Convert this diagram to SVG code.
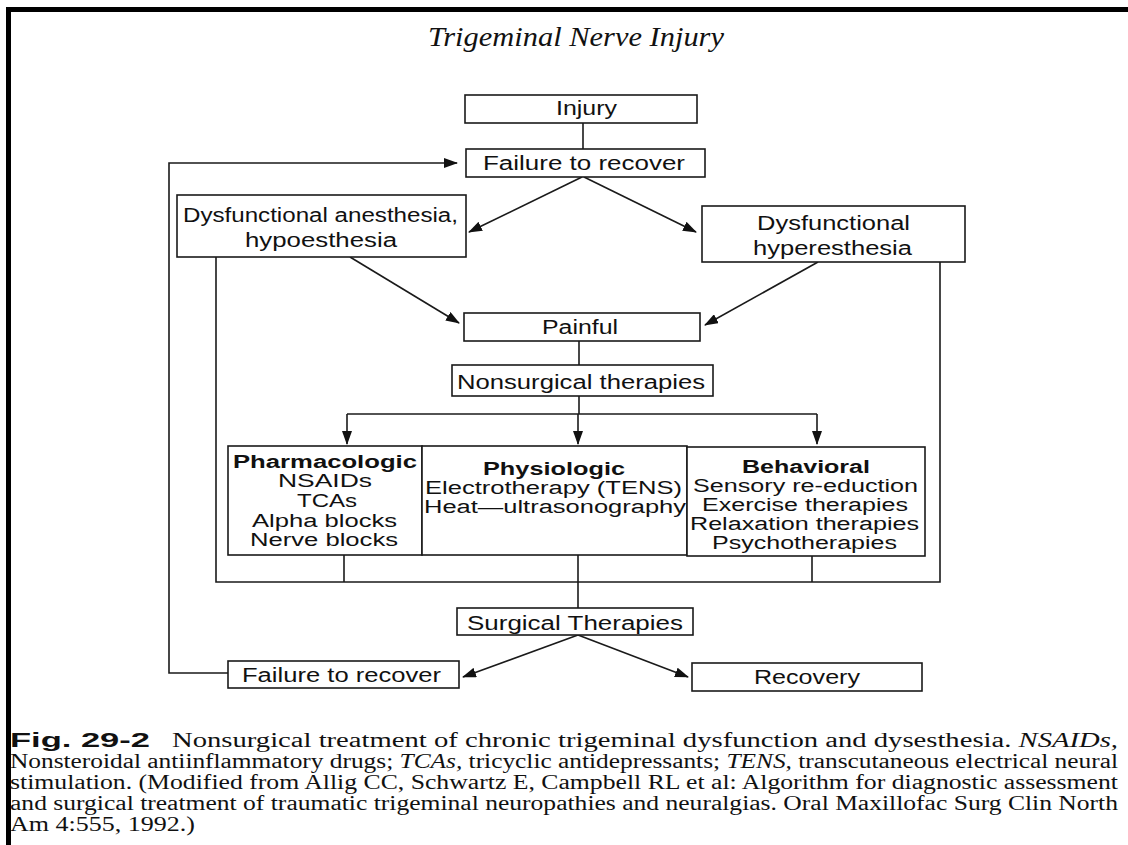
<svg xmlns="http://www.w3.org/2000/svg" width="1128" height="845" viewBox="0 0 1128 845">
<style>
.bx{fill:#fff;stroke:#1a1a1a;stroke-width:1.6}
.t{font-family:"Liberation Sans",Arial,sans-serif;font-size:20px;fill:#111;text-anchor:start}
.s{font-size:18px}
.b{font-weight:bold}
.ln{fill:none;stroke:#1a1a1a;stroke-width:1.6}
.cap{font-family:"Liberation Serif","Times New Roman",serif;font-size:20px;fill:#111}
</style>
<defs>
<marker id="ah" markerUnits="userSpaceOnUse" markerWidth="14" markerHeight="10" refX="13" refY="5" orient="auto">
<path d="M0,0 L14,5 L0,10 z" fill="#111"/>
</marker>
</defs>
<rect x="0" y="0" width="1128" height="845" fill="#fff"/>
<rect x="6" y="7" width="1122" height="5" fill="#000"/>
<rect x="6" y="7" width="5" height="838" fill="#000"/>
<text x="428" y="46" font-family="'Liberation Serif','Times New Roman',serif" font-style="italic" font-size="27" fill="#111" textLength="296" lengthAdjust="spacingAndGlyphs">Trigeminal Nerve Injury</text>

<g id="connectors">
<line class="ln" x1="583" y1="123" x2="583" y2="149"/>
<line class="ln" x1="582" y1="177" x2="469" y2="232" marker-end="url(#ah)"/>
<line class="ln" x1="584" y1="177" x2="696" y2="232" marker-end="url(#ah)"/>
<line class="ln" x1="350" y1="257" x2="459" y2="323" marker-end="url(#ah)"/>
<line class="ln" x1="818" y1="262" x2="705" y2="325" marker-end="url(#ah)"/>
<line class="ln" x1="579" y1="341" x2="579" y2="365"/>
<line class="ln" x1="579" y1="396" x2="579" y2="414"/>
<line class="ln" x1="347" y1="414" x2="817" y2="414"/>
<line class="ln" x1="347" y1="414" x2="347" y2="444" marker-end="url(#ah)"/>
<line class="ln" x1="578" y1="414" x2="578" y2="444" marker-end="url(#ah)"/>
<line class="ln" x1="817" y1="414" x2="817" y2="444" marker-end="url(#ah)"/>
<line class="ln" x1="344" y1="555" x2="344" y2="582"/>
<line class="ln" x1="812" y1="555" x2="812" y2="582"/>
<line class="ln" x1="578" y1="555" x2="578" y2="608"/>
<polyline class="ln" points="216,257 216,582 940,582 940,262"/>
<line class="ln" x1="578" y1="635" x2="463" y2="677" marker-end="url(#ah)"/>
<line class="ln" x1="578" y1="635" x2="688" y2="677" marker-end="url(#ah)"/>
<polyline class="ln" points="228,673 169,673 169,163 457,163" marker-end="url(#ah)"/>
</g>

<g id="injury">
<rect class="bx" x="465" y="95" width="232" height="28"/>
<text class="t" x="556" y="115" textLength="61" lengthAdjust="spacingAndGlyphs">Injury</text>
</g>
<g id="failure-top">
<rect class="bx" x="466" y="149" width="239" height="28"/>
<text class="t" x="483" y="170" textLength="202" lengthAdjust="spacingAndGlyphs">Failure to recover</text>
</g>
<g id="anesthesia">
<rect class="bx" x="177" y="195" width="289" height="62"/>
<text class="t" x="183" y="222" textLength="275" lengthAdjust="spacingAndGlyphs">Dysfunctional anesthesia,</text>
<text class="t" x="245" y="247" textLength="152" lengthAdjust="spacingAndGlyphs">hypoesthesia</text>
</g>
<g id="hyperesthesia">
<rect class="bx" x="702" y="206" width="263" height="56"/>
<text class="t" x="757" y="230" textLength="153" lengthAdjust="spacingAndGlyphs">Dysfunctional</text>
<text class="t" x="753" y="255" textLength="159" lengthAdjust="spacingAndGlyphs">hyperesthesia</text>
</g>
<g id="painful">
<rect class="bx" x="464" y="313" width="236" height="28"/>
<text class="t" x="542" y="334" textLength="76" lengthAdjust="spacingAndGlyphs">Painful</text>
</g>
<g id="nonsurgical">
<rect class="bx" x="452" y="365" width="261" height="31"/>
<text class="t" x="457" y="389" textLength="248" lengthAdjust="spacingAndGlyphs">Nonsurgical therapies</text>
</g>
<g id="pharmacologic">
<rect class="bx" x="228" y="446" width="194" height="109"/>
<text class="t s b" x="233" y="468" textLength="184" lengthAdjust="spacingAndGlyphs">Pharmacologic</text>
<text class="t s" x="278" y="487" textLength="94" lengthAdjust="spacingAndGlyphs">NSAIDs</text>
<text class="t s" x="297" y="507" textLength="60" lengthAdjust="spacingAndGlyphs">TCAs</text>
<text class="t s" x="252" y="527" textLength="145" lengthAdjust="spacingAndGlyphs">Alpha blocks</text>
<text class="t s" x="250" y="546" textLength="148" lengthAdjust="spacingAndGlyphs">Nerve blocks</text>
</g>
<g id="physiologic">
<rect class="bx" x="422" y="446" width="265" height="109"/>
<text class="t s b" x="483" y="475" textLength="142" lengthAdjust="spacingAndGlyphs">Physiologic</text>
<text class="t s" x="425" y="494" textLength="257" lengthAdjust="spacingAndGlyphs">Electrotherapy (TENS)</text>
<text class="t s" x="424" y="513" textLength="262" lengthAdjust="spacingAndGlyphs">Heat—ultrasonography</text>
</g>
<g id="behavioral">
<rect class="bx" x="687" y="447" width="238" height="109"/>
<text class="t s b" x="742" y="473" textLength="128" lengthAdjust="spacingAndGlyphs">Behavioral</text>
<text class="t s" x="693" y="492" textLength="225" lengthAdjust="spacingAndGlyphs">Sensory re-eduction</text>
<text class="t s" x="702" y="511" textLength="206" lengthAdjust="spacingAndGlyphs">Exercise therapies</text>
<text class="t s" x="690" y="530" textLength="229" lengthAdjust="spacingAndGlyphs">Relaxation therapies</text>
<text class="t s" x="712" y="549" textLength="185" lengthAdjust="spacingAndGlyphs">Psychotherapies</text>
</g>
<g id="surgical">
<rect class="bx" x="457" y="608" width="236" height="27"/>
<text class="t" x="467" y="630" textLength="216" lengthAdjust="spacingAndGlyphs">Surgical Therapies</text>
</g>
<g id="failure-bottom">
<rect class="bx" x="228" y="661" width="231" height="27"/>
<text class="t" x="242" y="682" textLength="199" lengthAdjust="spacingAndGlyphs">Failure to recover</text>
</g>
<g id="recovery">
<rect class="bx" x="692" y="663" width="230" height="28"/>
<text class="t" x="754" y="684" textLength="106" lengthAdjust="spacingAndGlyphs">Recovery</text>
</g>

<g id="caption">
<text x="10" y="747" font-family="'Liberation Sans',Arial,sans-serif" font-weight="bold" font-size="20" fill="#111" textLength="140" lengthAdjust="spacingAndGlyphs">Fig. 29-2</text>
<text class="cap" x="172" y="747" textLength="946" lengthAdjust="spacingAndGlyphs">Nonsurgical treatment of chronic trigeminal dysfunction and dysesthesia. <tspan font-style="italic">NSAIDs,</tspan></text>
<text class="cap" x="10" y="768" textLength="1108" lengthAdjust="spacingAndGlyphs">Nonsteroidal antiinflammatory drugs; <tspan font-style="italic">TCAs,</tspan> tricyclic antidepressants; <tspan font-style="italic">TENS,</tspan> transcutaneous electrical neural</text>
<text class="cap" x="10" y="789" textLength="1108" lengthAdjust="spacingAndGlyphs">stimulation. (Modified from Allig CC, Schwartz E, Campbell RL et al: Algorithm for diagnostic assessment</text>
<text class="cap" x="10" y="810" textLength="1108" lengthAdjust="spacingAndGlyphs">and surgical treatment of traumatic trigeminal neuropathies and neuralgias. Oral Maxillofac Surg Clin North</text>
<text class="cap" x="10" y="831" textLength="185" lengthAdjust="spacingAndGlyphs">Am 4:555, 1992.)</text>
</g>
</svg>
